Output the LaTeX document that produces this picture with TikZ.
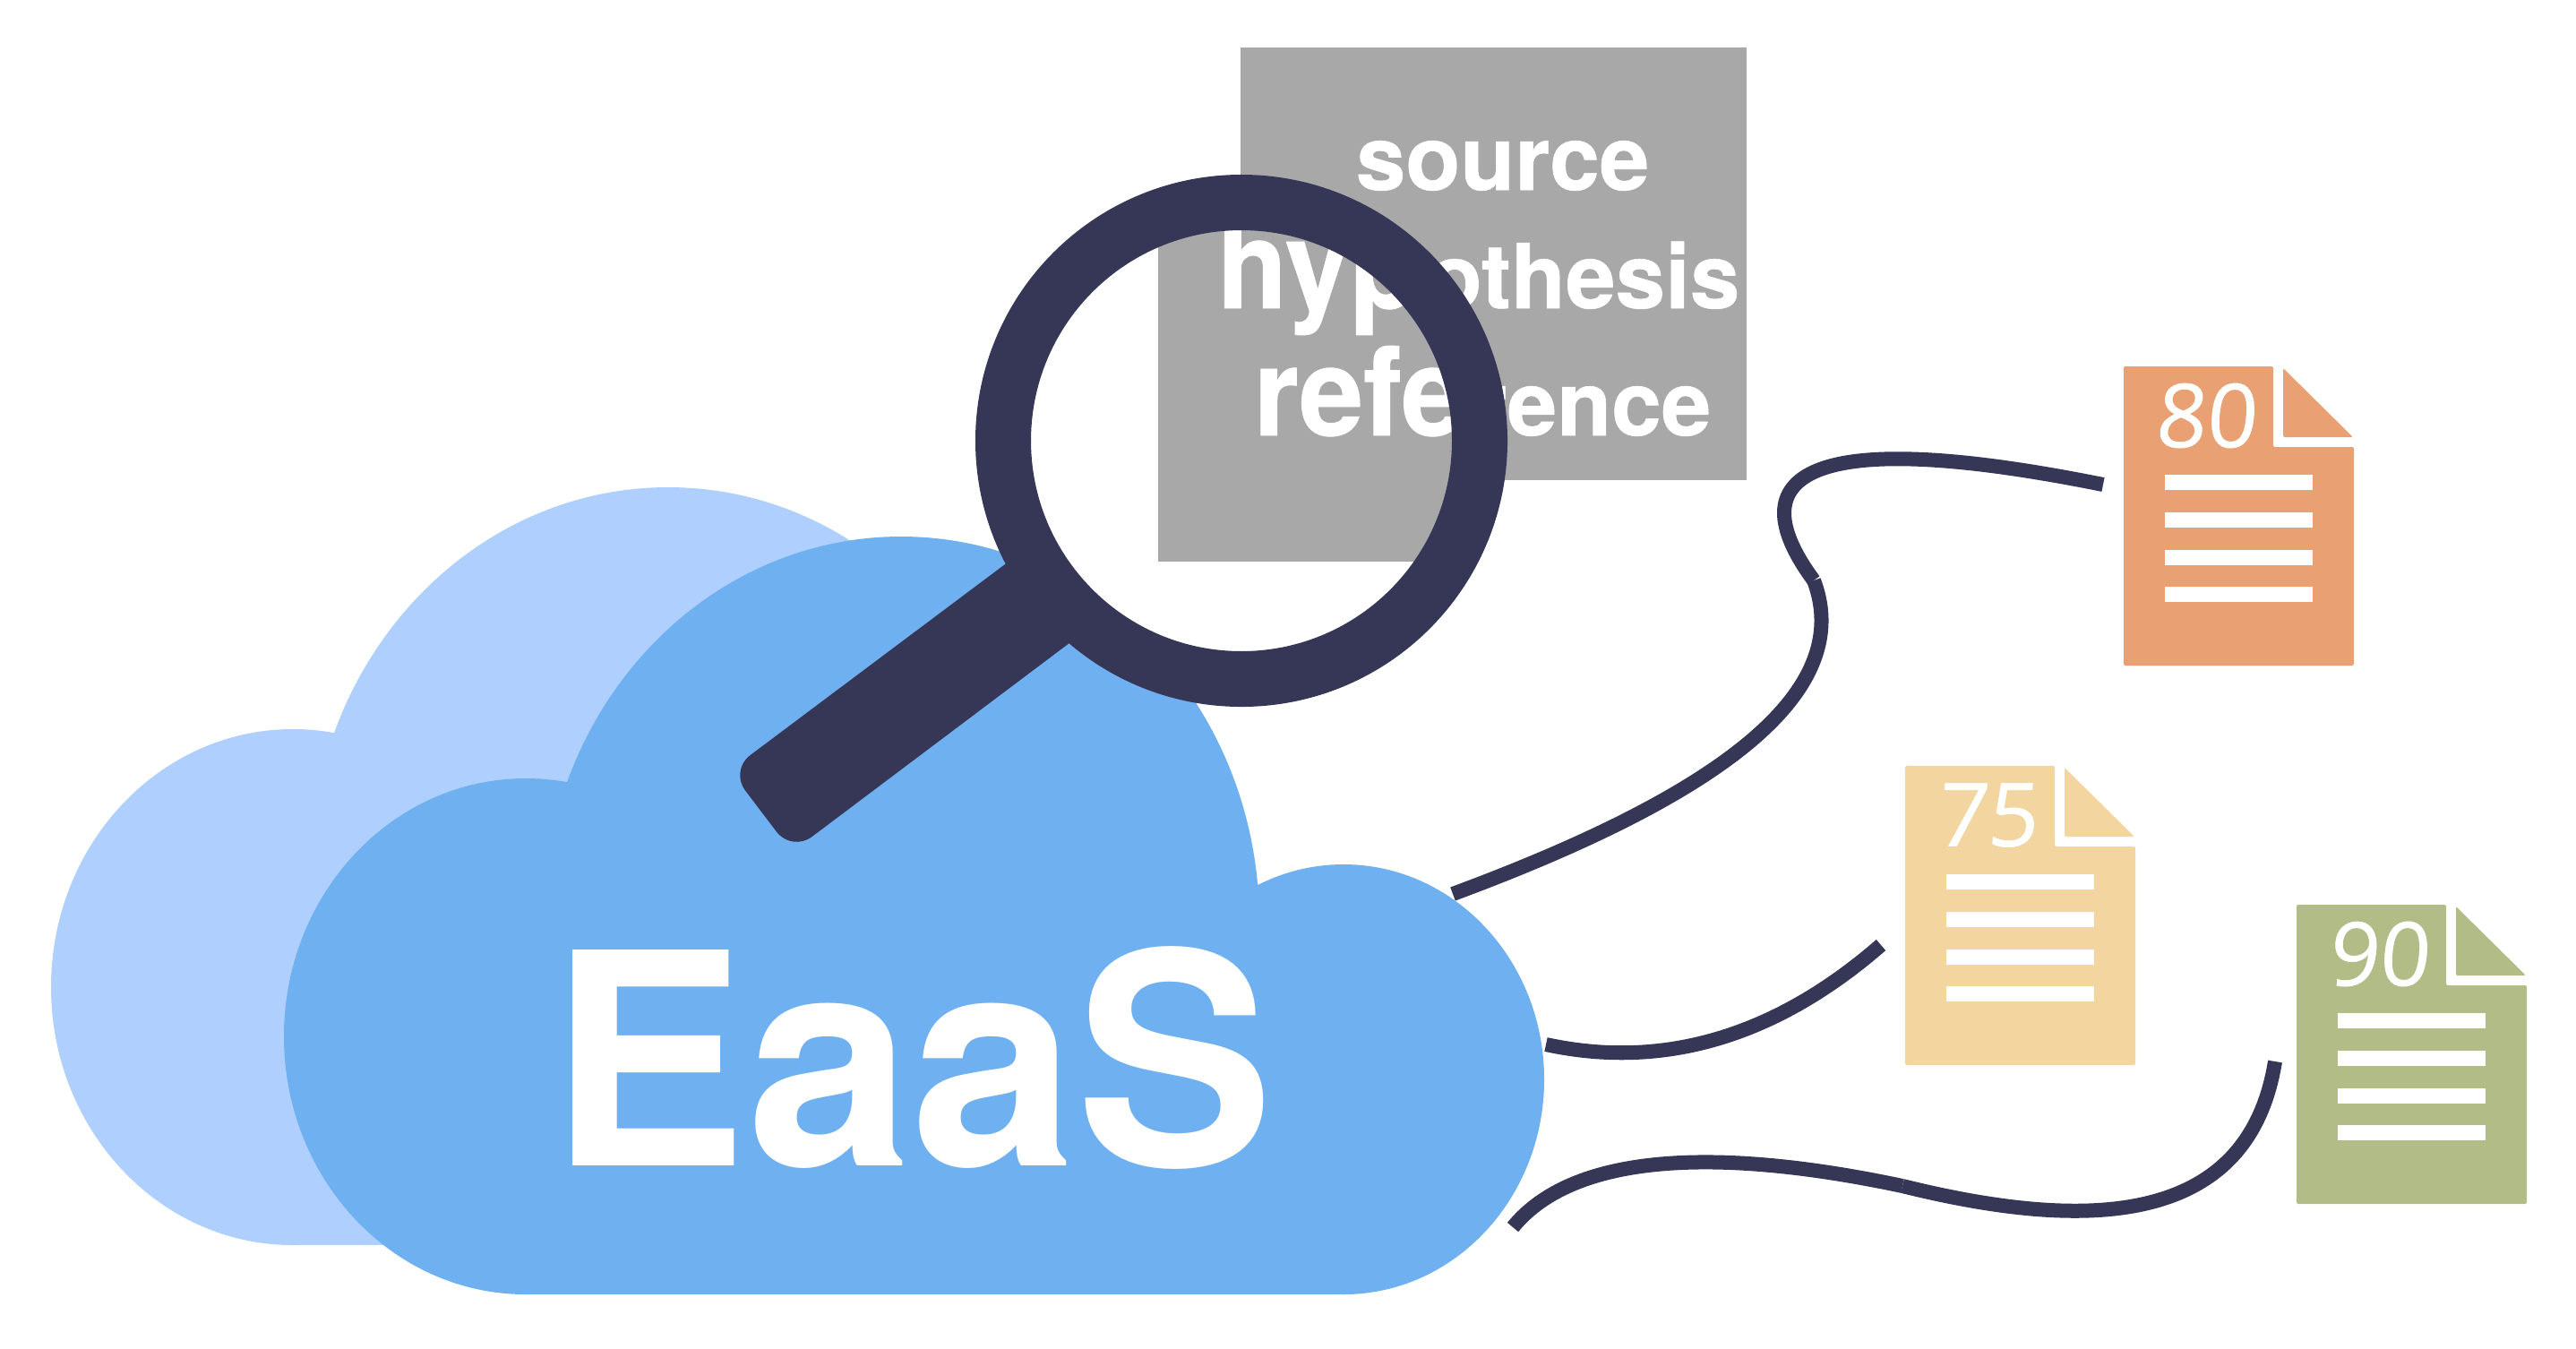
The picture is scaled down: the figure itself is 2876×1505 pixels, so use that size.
\documentclass[tikz,border=0pt]{standalone}
\usepackage{fontspec}
\usepackage{xcolor}
\setmainfont{TeX Gyre Heros}
\newfontfamily\panelfont[BoldFeatures={FakeBold=0.6}]{TeX Gyre Heros}
\newfontfamily\scorefont[FakeSlant=0.08,FakeBold=0.6]{Open Sans}
\definecolor{cloudback}{HTML}{AFCFFF}
\definecolor{cloudfront}{HTML}{6FB0F0}
\definecolor{glassnavy}{HTML}{363757}
\definecolor{paneltone}{HTML}{A8A8A8}
\definecolor{docorange}{HTML}{E9A072}
\definecolor{docsand}{HTML}{F3D5A0}
\definecolor{docolive}{HTML}{B1BC87}

\begin{document}
\begin{tikzpicture}[
  x=0.01cm, y=-0.01cm,
  wire/.style={draw=glassnavy, line width=0.16cm},
  smalltext/.style={text=white, inner sep=0pt, anchor=base east,
                    font=\fontsize{28.4}{28.4}\panelfont\bfseries},
  lenstext/.style={text=white, inner sep=0pt, anchor=base west,
                   xscale=0.94, transform shape,
                   font=\fontsize{39}{39}\panelfont\bfseries},
  scoretext/.style={text=white, inner sep=0pt,
                    font=\fontsize{28}{28}\scorefont},
]
\useasboundingbox (0,0) rectangle (2876,1505);

\foreach \cloudx/\cloudy/\cloudcolor in {-260/-55/cloudback, 0/0/cloudfront} {
  \begin{scope}[shift={(\cloudx,\cloudy)}]
    \fill[\cloudcolor] (587,1157) ellipse [x radius=270, y radius=288];
    \fill[\cloudcolor] (1500,1205) ellipse [x radius=224, y radius=240];
    \fill[\cloudcolor] (606,1029) arc [start angle=180, end angle=360, x radius=400, y radius=430];
    \fill[\cloudcolor] (587,1029) rectangle (1500,1445);
  \end{scope}
}
\node[text=white, inner sep=0pt, anchor=base west,
      font=\fontsize{94}{94}\selectfont\bfseries] (eaas) at (613,1301) {EaaS};

\fill[paneltone] (1385,53) rectangle (1950,536);
\node[smalltext] (source) at (1842,212) {source};
\node[smalltext] (hypothesis) at (1943,344) {hypothesis};
\node[smalltext] (reference) at (1911,486) {reference};

\fill[glassnavy, rounded corners=0.28cm]
  (1150,609) -- (815,860) -- (884,951) -- (1215,702) -- cycle;
\fill[white] (1386,492) circle [radius=266];
\begin{scope}
  \clip (1386,492) circle [radius=266];
  \fill[paneltone] (1293,200) rectangle (1700,627);
  \node[lenstext] (hypzoom) at (1358,344) {hypothesis};
  \node[lenstext] (refzoom) at (1399,486) {reference};
\end{scope}
\draw[glassnavy, line width=0.62cm] (1386,492) circle [radius=266];

\foreach \docx/\docy/\doccolor/\score in {2371/409/docorange/80, 2127/855/docsand/75, 2564/1010/docolive/90} {
  \begin{scope}[shift={(\docx,\docy)}]
    \fill[\doccolor, rounded corners=0.02cm]
      (0,0) -- (167,0) -- (167,90) -- (257,90) -- (257,334) -- (0,334) -- cycle;
    \fill[\doccolor, rounded corners=0.02cm] (178,2) -- (256,79) -- (178,79) -- cycle;
    \foreach \bary in {121,163,205,246}
      \fill[white] (46,\bary) rectangle (211,\bary+17);
    \node[scoretext] (score\score) at (91,55) {\score};
  \end{scope}
}

\coordinate (wireAcloud) at (1622,998);
\coordinate (wireAkink) at (2025,648);
\coordinate (wireAdoc) at (2348,541);
\coordinate (wireBcloud) at (1726,1166);
\coordinate (wireBdoc) at (2100,1055);
\coordinate (wireCcloud) at (1689,1370);
\coordinate (wireCmid) at (2124,1324);
\coordinate (wireCdoc) at (2540,1185);
\draw[wire] (wireAcloud) .. controls (1900,895) and (2075,780) .. (wireAkink);
\draw[wire] (wireAkink) .. controls (1945,540) and (1995,470) .. (wireAdoc);
\draw[wire] (wireBcloud) .. controls (1860,1195) and (1985,1155) .. (wireBdoc);
\draw[wire] (wireCcloud) .. controls (1760,1283) and (1930,1283) .. (wireCmid);
\draw[wire] (wireCmid) .. controls (2330,1375) and (2510,1370) .. (wireCdoc);
\end{tikzpicture}
\end{document}
